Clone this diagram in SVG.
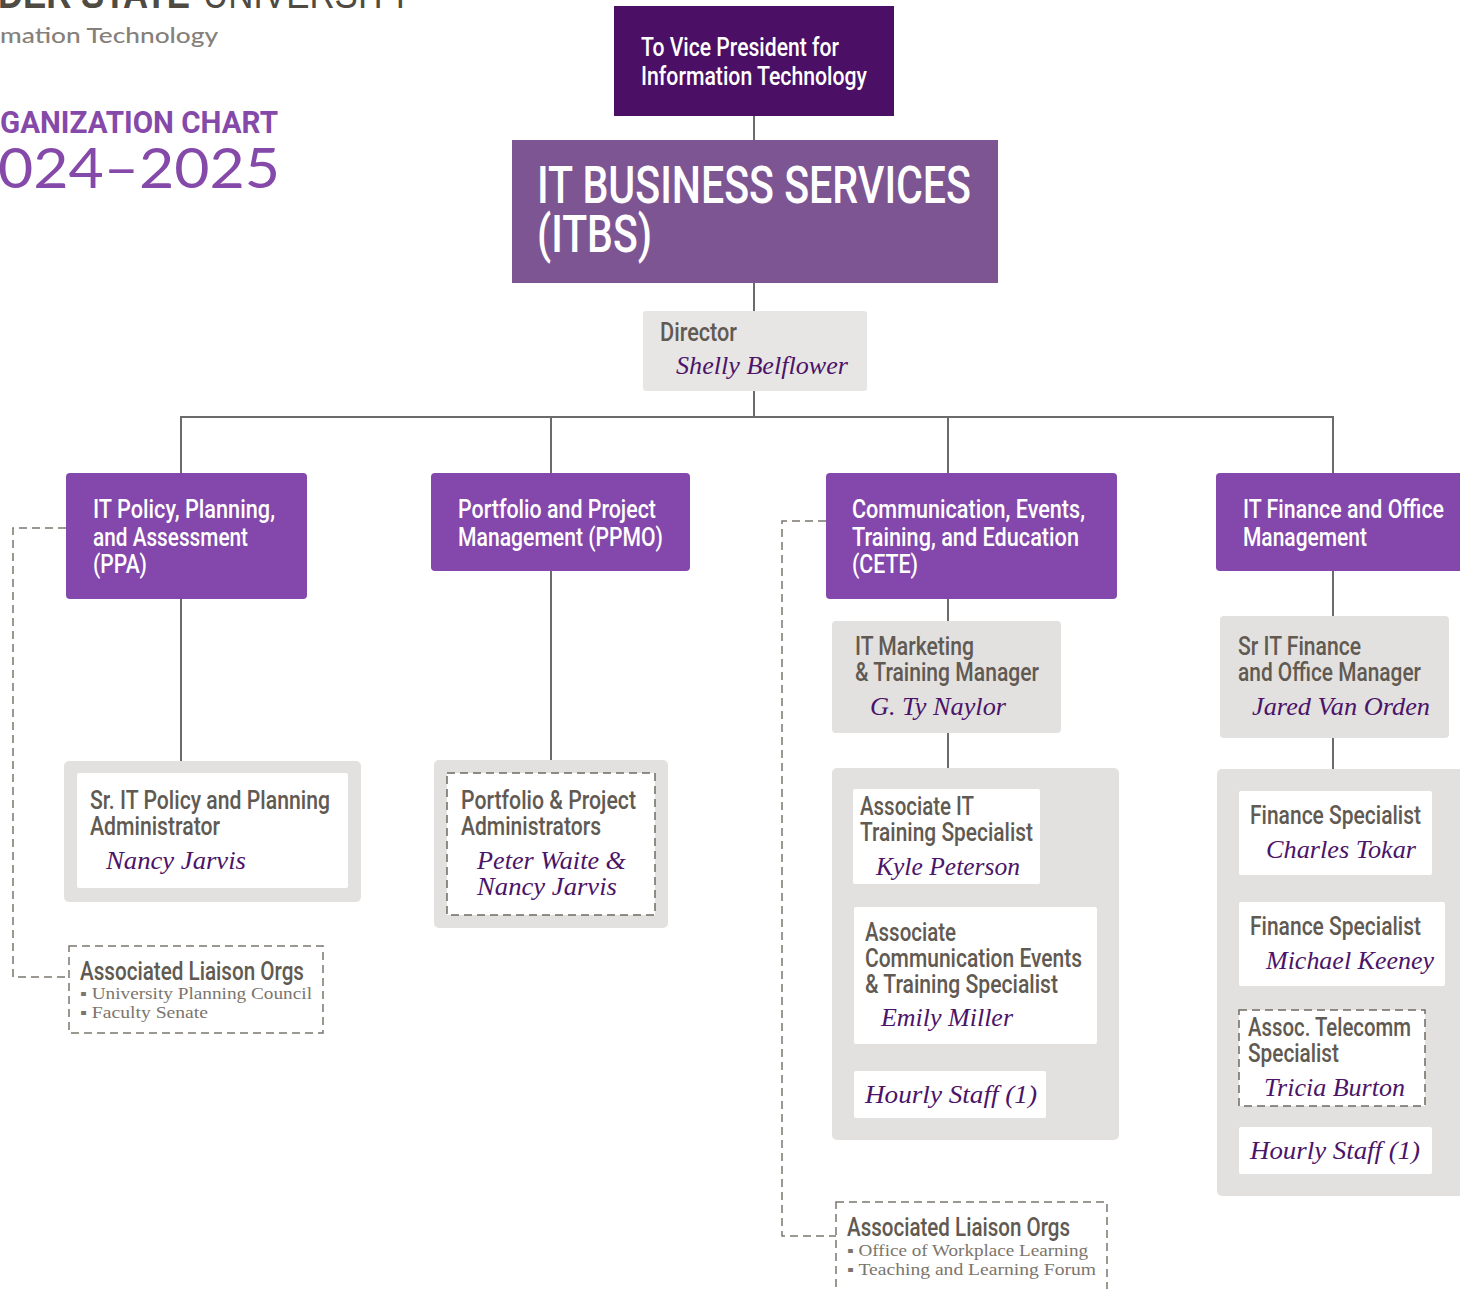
<svg xmlns="http://www.w3.org/2000/svg" width="1460" height="1289" viewBox="0 0 1460 1289">
<style>
.sans{font-family:Roboto,"Liberation Sans",Arial,sans-serif;font-weight:500;}
.w{fill:#ffffff;}
.ttl{fill:#615a52;font-size:25px;font-family:Roboto,"Liberation Sans",Arial,sans-serif;font-weight:500;}
.nm{fill:#4b1468;font-size:26px;font-style:italic;font-family:"Liberation Serif","Times New Roman",serif;}
.dept{fill:#8447ab;}
.grey{fill:#e2e1e0;}
.inner{fill:#ffffff;}
.dash{fill:#ffffff;stroke:#6f6962;stroke-width:1.5;stroke-dasharray:8 5;}
.dashbox{fill:none;stroke:#7b756d;stroke-width:1.5;stroke-dasharray:8 5;}
.line{stroke:#6b6b6b;stroke-width:2;fill:none;}
.dline{stroke:#7b756d;stroke-width:1.5;stroke-dasharray:8 5;fill:none;}
.bul{fill:#7b756d;font-size:16px;font-family:"Liberation Serif","Times New Roman",serif;}
.lia{fill:#615a52;font-size:25px;font-family:Roboto,"Liberation Sans",Arial,sans-serif;font-weight:500;}
.dt{fill:#ffffff;font-size:25px;font-family:Roboto,"Liberation Sans",Arial,sans-serif;font-weight:500;}
</style>
<rect x="0" y="0" width="1460" height="1289" fill="#ffffff"/>

<g id="header">
  <text x="-2" y="8" font-family="'Liberation Sans',Arial,sans-serif" font-size="40" font-weight="bold" fill="#4f4a42" textLength="192" lengthAdjust="spacingAndGlyphs">DER STATE</text>
  <text x="203" y="8" font-family="'Liberation Sans',Arial,sans-serif" font-size="40" fill="#4f4a42" textLength="209" lengthAdjust="spacingAndGlyphs">UNIVERSITY</text>
  <text x="0" y="43" font-family="Lato,'Liberation Sans',sans-serif" font-weight="500" font-size="22" fill="#858079" textLength="218" lengthAdjust="spacingAndGlyphs">mation Technology</text>
  <text x="0" y="133" font-family="Roboto,'Liberation Sans',sans-serif" font-size="32" font-weight="bold" fill="#8549aa" textLength="278" lengthAdjust="spacingAndGlyphs">GANIZATION CHART</text>
  <text x="-2" y="188" font-family="Lato,'Liberation Sans',sans-serif" font-weight="400" font-size="57" fill="#8549aa" textLength="282" lengthAdjust="spacingAndGlyphs">024–2025</text>
</g>

<g id="connectors">
  <line class="line" x1="754" y1="116" x2="754" y2="140"/>
  <line class="line" x1="754" y1="283" x2="754" y2="311"/>
  <line class="line" x1="754" y1="391" x2="754" y2="417"/>
  <line class="line" x1="180" y1="417" x2="1334" y2="417"/>
  <line class="line" x1="181" y1="417" x2="181" y2="473"/>
  <line class="line" x1="551" y1="417" x2="551" y2="473"/>
  <line class="line" x1="948" y1="417" x2="948" y2="473"/>
  <line class="line" x1="1333" y1="417" x2="1333" y2="473"/>
  <line class="line" x1="181" y1="599" x2="181" y2="761"/>
  <line class="line" x1="551" y1="571" x2="551" y2="760"/>
  <line class="line" x1="948" y1="599" x2="948" y2="621"/>
  <line class="line" x1="948" y1="733" x2="948" y2="768"/>
  <line class="line" x1="1333" y1="571" x2="1333" y2="616"/>
  <line class="line" x1="1333" y1="738" x2="1333" y2="769"/>
  <polyline class="dline" points="66,528 13,528 13,977 69,977"/>
  <polyline class="dline" points="826,521 782,521 782,1236 836,1236"/>
</g>

<g id="vp">
  <rect x="614" y="6" width="280" height="110" fill="#4b0f66"/>
  <text x="641" y="56" class="dt" textLength="198" lengthAdjust="spacingAndGlyphs">To Vice President for</text>
  <text x="641" y="85" class="dt" textLength="226" lengthAdjust="spacingAndGlyphs">Information Technology</text>
</g>

<g id="itbs">
  <rect x="512" y="140" width="486" height="143" fill="#7e5593"/>
  <text x="537" y="203" class="sans w" font-size="52" textLength="434" lengthAdjust="spacingAndGlyphs">IT BUSINESS SERVICES</text>
  <text x="537" y="252" class="sans w" font-size="52" textLength="115" lengthAdjust="spacingAndGlyphs">(ITBS)</text>
</g>

<g id="director">
  <rect x="643" y="311" width="224" height="80" rx="3" fill="#e7e6e5"/>
  <text x="660" y="341" class="ttl" textLength="77" lengthAdjust="spacingAndGlyphs">Director</text>
  <text x="676" y="374" class="nm" textLength="172" lengthAdjust="spacingAndGlyphs">Shelly Belflower</text>
</g>

<g id="ppa">
  <rect x="66" y="473" width="241" height="126" rx="4" class="dept"/>
  <text x="93" y="518" class="dt" textLength="182" lengthAdjust="spacingAndGlyphs">IT Policy, Planning,</text>
  <text x="93" y="546" class="dt" textLength="155" lengthAdjust="spacingAndGlyphs">and Assessment</text>
  <text x="93" y="573" class="dt" textLength="54" lengthAdjust="spacingAndGlyphs">(PPA)</text>
</g>

<g id="ppmo">
  <rect x="431" y="473" width="259" height="98" rx="4" class="dept"/>
  <text x="458" y="518" class="dt" textLength="198" lengthAdjust="spacingAndGlyphs">Portfolio and Project</text>
  <text x="458" y="546" class="dt" textLength="205" lengthAdjust="spacingAndGlyphs">Management (PPMO)</text>
</g>

<g id="cete">
  <rect x="826" y="473" width="291" height="126" rx="4" class="dept"/>
  <text x="852" y="518" class="dt" textLength="233" lengthAdjust="spacingAndGlyphs">Communication, Events,</text>
  <text x="852" y="546" class="dt" textLength="227" lengthAdjust="spacingAndGlyphs">Training, and Education</text>
  <text x="852" y="573" class="dt" textLength="66" lengthAdjust="spacingAndGlyphs">(CETE)</text>
</g>

<g id="finance">
  <rect x="1216" y="473" width="260" height="98" rx="4" class="dept"/>
  <text x="1243" y="518" class="dt" textLength="201" lengthAdjust="spacingAndGlyphs">IT Finance and Office</text>
  <text x="1243" y="546" class="dt" textLength="124" lengthAdjust="spacingAndGlyphs">Management</text>
</g>

<g id="ppa-staff">
  <rect x="64" y="761" width="297" height="141" rx="5" class="grey"/>
  <rect x="77" y="773" width="271" height="115" rx="2" class="inner"/>
  <text x="90" y="809" class="ttl" textLength="240" lengthAdjust="spacingAndGlyphs">Sr. IT Policy and Planning</text>
  <text x="90" y="835" class="ttl" textLength="130" lengthAdjust="spacingAndGlyphs">Administrator</text>
  <text x="106" y="869" class="nm" textLength="140" lengthAdjust="spacingAndGlyphs">Nancy Jarvis</text>
</g>

<g id="ppa-liaison">
  <rect x="69" y="946" width="254" height="87" class="dashbox"/>
  <text x="80" y="980" class="lia" textLength="224" lengthAdjust="spacingAndGlyphs">Associated Liaison Orgs</text>
  <text x="80" y="999" class="bul" textLength="232" lengthAdjust="spacingAndGlyphs">▪ University Planning Council</text>
  <text x="80" y="1018" class="bul" textLength="128" lengthAdjust="spacingAndGlyphs">▪ Faculty Senate</text>
</g>

<g id="ppmo-staff">
  <rect x="434" y="760" width="234" height="168" rx="5" class="grey"/>
  <rect x="447" y="773" width="208" height="142" class="dash"/>
  <text x="461" y="809" class="ttl" textLength="175" lengthAdjust="spacingAndGlyphs">Portfolio &amp; Project</text>
  <text x="461" y="835" class="ttl" textLength="140" lengthAdjust="spacingAndGlyphs">Administrators</text>
  <text x="477" y="869" class="nm" textLength="149" lengthAdjust="spacingAndGlyphs">Peter Waite &amp;</text>
  <text x="477" y="895" class="nm" textLength="140" lengthAdjust="spacingAndGlyphs">Nancy Jarvis</text>
</g>

<g id="cete-manager">
  <rect x="832" y="621" width="229" height="112" rx="4" class="grey"/>
  <text x="855" y="655" class="ttl" textLength="119" lengthAdjust="spacingAndGlyphs">IT Marketing</text>
  <text x="855" y="681" class="ttl" textLength="184" lengthAdjust="spacingAndGlyphs">&amp; Training Manager</text>
  <text x="870" y="715" class="nm" textLength="136" lengthAdjust="spacingAndGlyphs">G. Ty Naylor</text>
</g>

<g id="cete-staff">
  <rect x="832" y="768" width="287" height="372" rx="5" class="grey"/>
  <rect x="853" y="789" width="187" height="95" rx="2" class="inner"/>
  <text x="860" y="815" class="ttl" textLength="114" lengthAdjust="spacingAndGlyphs">Associate IT</text>
  <text x="860" y="841" class="ttl" textLength="173" lengthAdjust="spacingAndGlyphs">Training Specialist</text>
  <text x="876" y="875" class="nm" textLength="144" lengthAdjust="spacingAndGlyphs">Kyle Peterson</text>
  <rect x="854" y="907" width="243" height="137" rx="2" class="inner"/>
  <text x="865" y="941" class="ttl" textLength="91" lengthAdjust="spacingAndGlyphs">Associate</text>
  <text x="865" y="967" class="ttl" textLength="217" lengthAdjust="spacingAndGlyphs">Communication Events</text>
  <text x="865" y="993" class="ttl" textLength="193" lengthAdjust="spacingAndGlyphs">&amp; Training Specialist</text>
  <text x="881" y="1026" class="nm" textLength="132" lengthAdjust="spacingAndGlyphs">Emily Miller</text>
  <rect x="854" y="1071" width="192" height="47" rx="2" class="inner"/>
  <text x="865" y="1103" class="nm" textLength="172" lengthAdjust="spacingAndGlyphs">Hourly Staff (1)</text>
</g>

<g id="cete-liaison">
  <rect x="836" y="1202" width="271" height="90" class="dashbox"/>
  <text x="847" y="1236" class="lia" textLength="223" lengthAdjust="spacingAndGlyphs">Associated Liaison Orgs</text>
  <text x="847" y="1256" class="bul" textLength="241" lengthAdjust="spacingAndGlyphs">▪ Office of Workplace Learning</text>
  <text x="847" y="1275" class="bul" textLength="249" lengthAdjust="spacingAndGlyphs">▪ Teaching and Learning Forum</text>
</g>

<g id="finance-manager">
  <rect x="1220" y="616" width="229" height="122" rx="4" class="grey"/>
  <text x="1238" y="655" class="ttl" textLength="123" lengthAdjust="spacingAndGlyphs">Sr IT Finance</text>
  <text x="1238" y="681" class="ttl" textLength="183" lengthAdjust="spacingAndGlyphs">and Office Manager</text>
  <text x="1252" y="715" class="nm" textLength="178" lengthAdjust="spacingAndGlyphs">Jared Van Orden</text>
</g>

<g id="finance-staff">
  <rect x="1217" y="769" width="260" height="427" rx="5" class="grey"/>
  <rect x="1239" y="791" width="193" height="84" rx="2" class="inner"/>
  <text x="1250" y="824" class="ttl" textLength="171" lengthAdjust="spacingAndGlyphs">Finance Specialist</text>
  <text x="1266" y="858" class="nm" textLength="150" lengthAdjust="spacingAndGlyphs">Charles Tokar</text>
  <rect x="1239" y="902" width="206" height="84" rx="2" class="inner"/>
  <text x="1250" y="935" class="ttl" textLength="171" lengthAdjust="spacingAndGlyphs">Finance Specialist</text>
  <text x="1266" y="969" class="nm" textLength="168" lengthAdjust="spacingAndGlyphs">Michael Keeney</text>
  <rect x="1239" y="1010" width="186" height="96" class="dash"/>
  <text x="1248" y="1036" class="ttl" textLength="163" lengthAdjust="spacingAndGlyphs">Assoc. Telecomm</text>
  <text x="1248" y="1062" class="ttl" textLength="91" lengthAdjust="spacingAndGlyphs">Specialist</text>
  <text x="1264" y="1096" class="nm" textLength="141" lengthAdjust="spacingAndGlyphs">Tricia Burton</text>
  <rect x="1239" y="1127" width="193" height="47" rx="2" class="inner"/>
  <text x="1250" y="1159" class="nm" textLength="170" lengthAdjust="spacingAndGlyphs">Hourly Staff (1)</text>
</g>
</svg>
